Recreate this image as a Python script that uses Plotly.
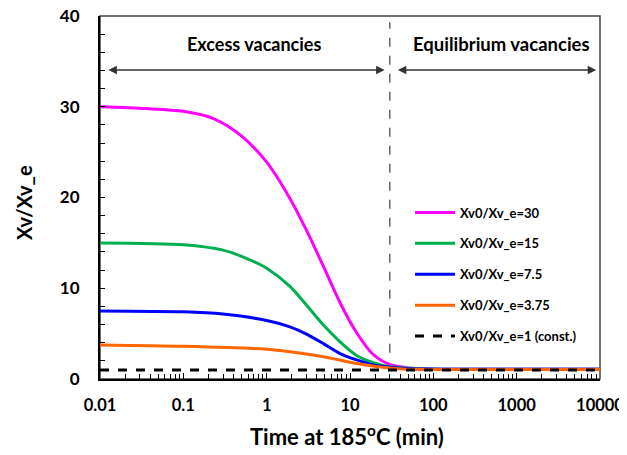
import numpy as np
import plotly.graph_objects as go

# Time (min) sample points
t30 = [0.01, 0.036, 0.1, 0.23, 0.48, 1.0, 1.9, 3.0, 4.8, 7.6, 12, 19, 30, 48, 80, 200, 1000, 10000]
v30 = [30.0, 29.8, 29.5, 28.7, 26.9, 23.9, 19.9, 16.4, 12.4, 8.4, 5.1, 2.7, 1.6, 1.25, 1.1, 1.08, 1.07, 1.07]

t15 = [0.01, 0.1, 0.3, 0.57, 1.0, 1.9, 3.0, 4.8, 7.6, 12, 19, 30, 48, 80, 200, 1000, 10000]
v15 = [15.0, 14.8, 14.2, 13.3, 12.2, 10.2, 8.15, 5.95, 4.1, 2.6, 1.8, 1.35, 1.2, 1.1, 1.08, 1.07, 1.07]

t75 = [0.01, 0.1, 0.3, 1.0, 1.9, 3.0, 4.8, 7.6, 12, 19, 30, 48, 80, 200, 1000, 10000]
v75 = [7.5, 7.4, 7.15, 6.45, 5.75, 4.95, 3.9, 2.8, 2.1, 1.55, 1.3, 1.15, 1.1, 1.08, 1.07, 1.07]

t375 = [0.01, 0.1, 1.0, 1.9, 4.8, 12, 30, 48, 80, 200, 1000, 10000]
v375 = [3.75, 3.6, 3.28, 3.0, 2.45, 1.7, 1.2, 1.08, 1.06, 1.05, 1.05, 1.05]

t1 = [0.01, 10000]
v1 = [1.0, 1.0]

series = [
    ("Xv0/Xv_e=30", t30, v30, "#FF00FF", "solid"),
    ("Xv0/Xv_e=15", t15, v15, "#00B050", "solid"),
    ("Xv0/Xv_e=7.5", t75, v75, "#0000FF", "solid"),
    ("Xv0/Xv_e=3.75", t375, v375, "#FF6600", "solid"),
    ("Xv0/Xv_e=1 (const.)", t1, v1, "#000000", "dash"),
]

boundary_t = 30
xticks = [0.01, 0.1, 1, 10, 100, 1000, 10000]
xtick_text = ["0.01", "0.1", "1", "10", "100", "1000", "10000"]
yticks = [0, 10, 20, 30, 40]

FONT = "Lato"

fig = go.Figure()
for i, (name, t, v, col, dash) in enumerate(series):
    fig.add_trace(go.Scatter(
        x=t, y=v, name="<b>" + name + "</b>", mode="lines", line_shape="spline",
        line=dict(color=col, width=3, dash=dash, smoothing=0.8),
        legendgroup=str(i),
    ))

# boundary dashed line
fig.add_trace(go.Scatter(x=[boundary_t, boundary_t], y=[2.9, 39.3], mode="lines",
                         line=dict(color="#666666", width=1.5, dash="dash"),
                         showlegend=False, hoverinfo="skip"))

# arrows (annotations on log axis use log10 coords)
def arrow(x0, x1, y):
    fig.add_annotation(x=np.log10(x1), y=y, ax=np.log10(x0), ay=y, xref="x", yref="y",
                       axref="x", ayref="y", showarrow=True, arrowhead=2, startarrowhead=2,
                       arrowside="end+start", arrowsize=1.3, arrowwidth=1.3,
                       arrowcolor="#333333", text="")

arrow(0.0121, 26.0, 34.05)
arrow(36.0, 9000, 34.05)

fig.add_annotation(x=np.log10(0.7), y=36.9, xref="x", yref="y", text="<b>Excess vacancies</b>",
                   showarrow=False, font=dict(family=FONT, size=18, color="black"))
fig.add_annotation(x=np.log10(650), y=36.9, xref="x", yref="y", text="<b>Equilibrium vacancies</b>",
                   showarrow=False, font=dict(family=FONT, size=18.5, color="black"))

# axis titles
fig.add_annotation(x=-0.152, y=0.485, xref="paper", yref="paper", text="<b>Xv/Xv_e</b>",
                   xanchor="center", yanchor="middle",
                   textangle=-90, showarrow=False, font=dict(family=FONT, size=20, color="black"))
fig.add_annotation(x=0.494, y=-0.157, xref="paper", yref="paper",
                   text="<b>Time at 185<sup>o</sup>C (min)</b>", xanchor="center", yanchor="middle",
                   showarrow=False, font=dict(family=FONT, size=22, color="black"))

# frame (top/right)
fig.add_shape(type="rect", xref="paper", yref="paper", x0=0, x1=1, y0=0, y1=1,
              line=dict(color="#444444", width=1.5), layer="below")

# the page body has an 8px margin, so the figure is 8px smaller and margins shifted
fig.update_layout(
    width=619, height=447,
    margin=dict(l=92, r=27, t=8, b=76, autoexpand=False),
    plot_bgcolor="white", paper_bgcolor="white",
    font=dict(family=FONT, color="black"),
    showlegend=True,
    legend=dict(x=0.62, y=0.5, xanchor="left", yanchor="top",
                font=dict(family=FONT, size=13, color="black"),
                bgcolor="rgba(0,0,0,0)", tracegroupgap=11, itemwidth=40),
    xaxis=dict(type="log", range=[-2, 4], tickvals=xticks, ticktext=xtick_text,
               ticks="inside", ticklen=6, tickwidth=1, tickcolor="black",
               minor=dict(ticks="inside", ticklen=5, tickcolor="black",
                          dtick="D1", showgrid=False),
               showline=True, linecolor="black", linewidth=2, showgrid=False, zeroline=False,
               tickfont=dict(family=FONT, size=16.5, color="black", weight="bold"),
               automargin=False, ticklabelstandoff=10, ticklabeloverflow="allow"),
    yaxis=dict(range=[0, 40], tickvals=yticks,
               ticks="inside", ticklen=5, tickwidth=1, tickcolor="black",
               minor=dict(ticks="inside", ticklen=5, tickcolor="black", dtick=2),
               showline=True, linecolor="black", linewidth=2, showgrid=False, zeroline=False,
               tickfont=dict(family=FONT, size=17, color="black", weight="bold"),
               automargin=False, ticklabelstandoff=15, ticklabeloverflow="allow"),
)

fig.write_html("out.html")
